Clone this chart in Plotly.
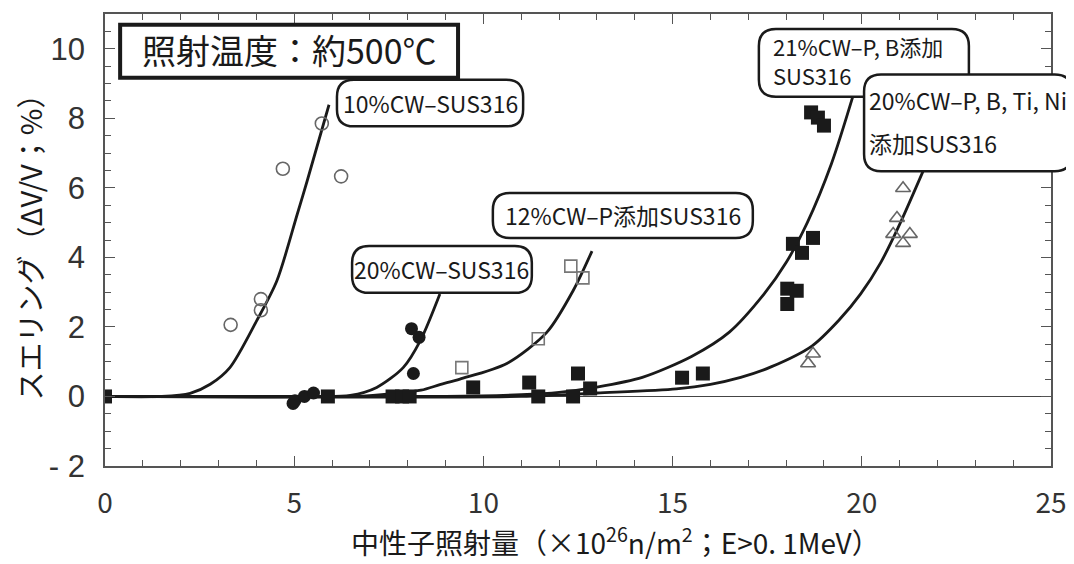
import plotly.graph_objects as go

# ---------------- data ----------------
circ_open_x = [3.32, 4.12, 4.12, 4.70, 5.73, 6.24]
circ_open_y = [2.06, 2.80, 2.48, 6.55, 7.85, 6.33]

circ_fill_x = [4.97, 5.02, 5.27, 5.51, 8.10, 8.30, 8.15]
circ_fill_y = [-0.20, -0.12, 0.00, 0.10, 1.95, 1.70, 0.66]

sq_open_x = [9.43, 11.45, 12.31, 12.63]
sq_open_y = [0.83, 1.66, 3.75, 3.41]

sq_fill_x = [0, 5.89, 7.60, 7.85, 8.05, 9.73, 11.21, 11.45, 12.37, 12.50, 12.82,
             15.25, 15.80, 18.03, 18.28, 18.03, 18.18, 18.42, 18.71, 18.66, 18.84, 19.00]
sq_fill_y = [0, 0, 0, 0, 0, 0.26, 0.40, 0, 0, 0.66, 0.23,
             0.54, 0.66, 3.10, 3.04, 2.66, 4.39, 4.13, 4.56, 8.17, 8.02, 7.79]

tri_x = [18.58, 18.71, 20.83, 20.93, 21.09, 21.09, 21.27]
tri_y = [0.95, 1.23, 4.67, 5.13, 5.99, 4.41, 4.67]

# fitted curves
c10_x = [0, 1.5, 2.25, 2.78, 3.30, 4.01, 4.54, 5.08, 5.34, 5.92]
c10_y = [0, 0, 0.09, 0.35, 0.83, 2.18, 3.32, 5.24, 6.19, 8.39]

c20_x = [0, 5.5, 6.48, 7.18, 7.88, 8.33, 8.85]
c20_y = [0, 0, 0.03, 0.26, 0.83, 1.60, 2.95]

c12_x = [0, 6.5, 7.08, 8.35, 8.85, 9.38, 10.62, 11.68, 12.37, 12.87]
c12_y = [0, 0, 0.03, 0.18, 0.34, 0.50, 0.95, 1.85, 3.04, 4.18]

c21_x = [0, 9, 11, 12, 13, 14.2, 15.5, 16.5, 17.42, 18.0, 18.56, 19.2, 19.77]
c21_y = [0, 0, 0.05, 0.12, 0.27, 0.55, 1.15, 1.85, 2.95, 3.85, 5.00, 6.70, 8.65]

c20b_x = [0, 11, 13, 15.1, 16.0, 16.8, 17.6, 18.68, 19.4, 19.97, 20.5, 21.0, 21.62]
c20b_y = [0, 0, 0.10, 0.22, 0.35, 0.55, 0.85, 1.45, 2.20, 2.95, 3.85, 4.95, 6.48]

x_ticks = [0, 5, 10, 15, 20, 25]
y_ticks = [-2, 0, 2, 4, 6, 8, 10]
y_tick_text = ["- 2", "0", "2", "4", "6", "8", "10"]

title_text = "照射温度：約500℃"
x_title = "中性子照射量（×10<sup>26</sup>n/m<sup>2</sup>；E>0. 1MeV）"
y_title = "スエリング（ΔV/V；%）"

# ---------------- figure ----------------
XR = (0, 25)
YR = (-2, 11)
# the page body has an 8px margin, so the figure is sized to fit the 1074x564 window
W, H = 1066, 556
ML, MR, MT, MB = 97, 23, 4, 98
PW, PH = W - ML - MR, H - MT - MB

CJK = "Noto Sans CJK JP, sans-serif"
INK = "#1a1a1a"

fig = go.Figure()

line_style = dict(color=INK, width=2.8, shape="spline", smoothing=0.8)
for cx, cy in [(c10_x, c10_y), (c20_x, c20_y), (c12_x, c12_y), (c21_x, c21_y), (c20b_x, c20b_y)]:
    fig.add_trace(go.Scatter(x=cx, y=cy, mode="lines", line=line_style,
                             hoverinfo="skip", showlegend=False))

fig.add_trace(go.Scatter(x=circ_open_x, y=circ_open_y, mode="markers",
                         marker=dict(symbol="circle-open", size=13, color="#666", line=dict(width=1.6)),
                         showlegend=False))
fig.add_trace(go.Scatter(x=circ_fill_x, y=circ_fill_y, mode="markers",
                         marker=dict(symbol="circle", size=13, color=INK),
                         showlegend=False))
fig.add_trace(go.Scatter(x=sq_open_x, y=sq_open_y, mode="markers",
                         marker=dict(symbol="square-open", size=12, color="#777", line=dict(width=1.6)),
                         showlegend=False))
fig.add_trace(go.Scatter(x=sq_fill_x, y=sq_fill_y, mode="markers",
                         marker=dict(symbol="square", size=14, color=INK),
                         showlegend=False))
fig.add_trace(go.Scatter(x=tri_x, y=tri_y, mode="markers",
                         marker=dict(symbol="triangle-up-open", size=13, color="#666", line=dict(width=1.6)),
                         showlegend=False))


def xp(x):
    return (x - XR[0]) / (XR[1] - XR[0])


def yp(y):
    return (y - YR[0]) / (YR[1] - YR[0])


def rounded_path(x0, y0, x1, y1, r=17):
    rx, ry = r / PW, r / PH
    X0, X1, Y0, Y1 = xp(x0), xp(x1), yp(y0), yp(y1)
    return (f"M {X0+rx},{Y0} L {X1-rx},{Y0} Q {X1},{Y0} {X1},{Y0+ry} "
            f"L {X1},{Y1-ry} Q {X1},{Y1} {X1-rx},{Y1} L {X0+rx},{Y1} "
            f"Q {X0},{Y1} {X0},{Y1-ry} L {X0},{Y0+ry} Q {X0},{Y0} {X0+rx},{Y0} Z")


shapes = []
annotations = []

# title box (square corners, heavy border)
shapes.append(dict(type="rect", xref="paper", yref="paper",
                   x0=xp(0.40), x1=xp(9.33), y0=yp(9.17), y1=yp(10.69),
                   line=dict(color=INK, width=4), fillcolor="white", layer="above"))
annotations.append(dict(x=xp(4.87), y=yp(9.97), xref="paper", yref="paper", text=title_text,
                        showarrow=False, font=dict(family=CJK, size=34, color=INK),
                        xanchor="center", yanchor="middle"))

# rounded label boxes: (x0, y0, x1, y1, [(text, x, y, anchor, size)])
boxes = [
    (6.13, 7.77, 11.05, 9.11, [("10%CW–SUS316", 8.59, 8.44, "center", 23)]),
    (10.25, 4.56, 17.12, 5.85, [("12%CW–P添加SUS316", 13.68, 5.21, "center", 23)]),
    (6.53, 2.98, 11.28, 4.33, [("20%CW–SUS316", 8.90, 3.66, "center", 23)]),
    (17.28, 8.62, 22.83, 10.57, [("21%CW–P, B添加<br>SUS316", 17.60, 9.66, "left", 22)]),
    (20.06, 6.48, 25.55, 9.26, [("20%CW–P, B, Ti, Ni", 20.14, 8.54, "left", 23),
                                ("添加SUS316", 20.14, 7.30, "left", 23)]),
]
for x0, y0, x1, y1, texts in boxes:
    shapes.append(dict(type="path", xref="paper", yref="paper",
                       path=rounded_path(x0, y0, x1, y1),
                       line=dict(color=INK, width=2.5), fillcolor="white", layer="above"))
    for t, tx, ty, anc, fs in texts:
        annotations.append(dict(x=xp(tx), y=yp(ty), xref="paper", yref="paper", text=t,
                                showarrow=False, font=dict(family=CJK, size=fs, color=INK),
                                xanchor=anc, yanchor="middle", align="left"))

# x-axis title (sits slightly right of the plot centre in the reference)
annotations.append(dict(x=xp(13.5), y=-0.165, xref="paper", yref="paper", text=x_title,
                        showarrow=False, font=dict(family=CJK, size=28, color=INK),
                        xanchor="center", yanchor="middle"))

axis_common = dict(showline=True, linecolor="#555", linewidth=1.5, mirror="ticks",
                   ticks="inside", tickcolor="#555", tickwidth=1.3, ticklen=10,
                   showgrid=False)

fig.update_layout(
    width=W, height=H,
    margin=dict(l=ML, r=MR, t=MT, b=MB),
    paper_bgcolor="white", plot_bgcolor="white",
    showlegend=False,
    shapes=shapes,
    annotations=annotations,
    xaxis=dict(range=list(XR), tickmode="array", tickvals=x_ticks,
               ticktext=[str(v) for v in x_ticks],
               minor=dict(dtick=1, ticks="inside", ticklen=6, tickcolor="#555", tickwidth=1.2),
               tickfont=dict(family=CJK, size=28, color="#333"),
               ticklabelstandoff=12,
               zeroline=False,
               **axis_common),
    yaxis=dict(range=list(YR), tickmode="array", tickvals=y_ticks, ticktext=y_tick_text,
               minor=dict(dtick=0.5, ticks="inside", ticklen=6, tickcolor="#555", tickwidth=1.2),
               tickfont=dict(family="Liberation Sans, Arial, sans-serif", size=31, color="#333"),
               ticklabelstandoff=12,
               zeroline=True, zerolinecolor="#444", zerolinewidth=1.2,
               title=dict(text=y_title, font=dict(family=CJK, size=29, color=INK), standoff=0),
               **axis_common),
)

fig.write_html("out.html")
